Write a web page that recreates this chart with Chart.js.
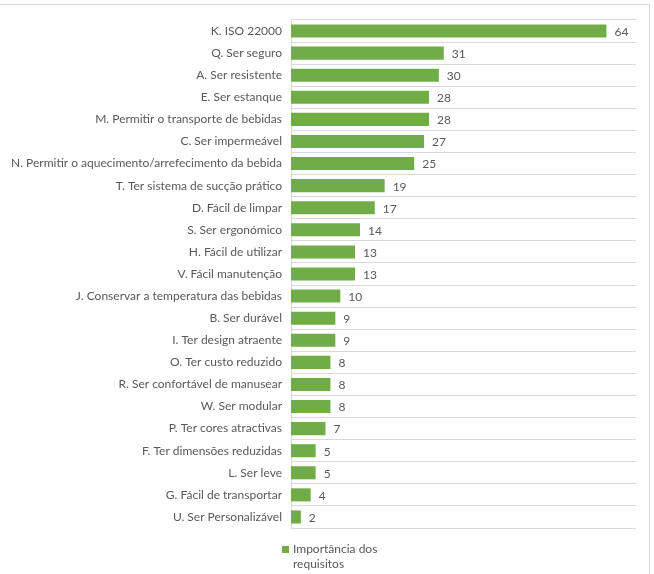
<!DOCTYPE html>
<html>
<head>
<meta charset="utf-8">
<script src="https://cdn.jsdelivr.net/npm/chart.js@4.4.1/dist/chart.umd.min.js"></script>
<style>
  body { margin: 0; background: #fff; }
  #wrap { position: relative; width: 654px; height: 574px; }
  #frame { position: absolute; left: 0; top: 4px; width: 650px; height: 570px;
           border-top: 1px solid #d9d9d9; border-right: 1px solid #d9d9d9; box-sizing: border-box; }
  #legend { position: absolute; left: 282px; top: 541px; width: 130px;
            font: 12px Lato, sans-serif; color: #595959; line-height: 15px; }
  #legend .sw { display: inline-block; width: 7px; height: 7px; background: #70ad47; margin-right: 4px; }
  #legend .txt { display: inline-block; vertical-align: top; width: 110px; }
</style>
</head>
<body>
<div id="wrap">
  <div id="frame"></div>
  <canvas id="chart" width="654" height="574"></canvas>
  <div id="legend"><span class="sw"></span><span class="txt" id="legendText"></span></div>
</div>
<script>
const categories = [
    'K. ISO 22000',
    'Q. Ser seguro',
    'A. Ser resistente',
    'E. Ser estanque',
    'M. Permitir o transporte de bebidas',
    'C. Ser impermeável',
    'N. Permitir o aquecimento/arrefecimento da bebida',
    'T. Ter sistema de sucção prático',
    'D. Fácil de limpar',
    'S. Ser ergonómico',
    'H. Fácil de utilizar',
    'V. Fácil manutenção',
    'J. Conservar a temperatura das bebidas',
    'B. Ser durável',
    'I. Ter design atraente',
    'O. Ter custo reduzido',
    'R. Ser confortável de manusear',
    'W. Ser modular',
    'P. Ter cores atractivas',
    'F. Ter dimensões reduzidas',
    'L. Ser leve',
    'G. Fácil de transportar',
    'U. Ser Personalizável'
];
const importancia = [64, 31, 30, 28, 28, 27, 25, 19, 17, 14, 13, 13, 10, 9, 9, 8, 8, 8, 7, 5, 5, 4, 2];
const seriesName = 'Importância dos requisitos';

const green = '#70ad47';
const textGray = '#595959';
const font = 'Lato, sans-serif';

document.getElementById('legendText').textContent = seriesName;

// values at the end of each bar
const valueLabels = {
    id: 'valueLabels',
    afterDatasetsDraw(chart) {
        const ctx = chart.ctx;
        const meta = chart.getDatasetMeta(0);
        ctx.save();
        ctx.font = '12px ' + font;
        ctx.fillStyle = textGray;
        ctx.textBaseline = 'middle';
        ctx.textAlign = 'left';
        meta.data.forEach((bar, i) => {
            ctx.fillText(chart.data.datasets[0].data[i], bar.x + 8, bar.y + 1);
        });
        ctx.restore();
    }
};

new Chart(document.getElementById('chart'), {
    type: 'bar',
    data: {
        labels: categories,
        datasets: [{
            label: seriesName,
            data: importancia,
            backgroundColor: green,
            barPercentage: 0.8,
            categoryPercentage: 0.74
        }]
    },
    options: {
        indexAxis: 'y',
        responsive: false,
        animation: false,
        layout: { padding: { top: 20, right: 18, bottom: 46, left: 0 } },
        plugins: { legend: { display: false }, tooltip: { enabled: false } },
        scales: {
            x: { display: false, min: 0, max: 70 },
            y: {
                afterFit(scale) { scale.width = 291; },
                grid: { color: '#d9d9d9', drawTicks: false, offset: true },
                border: { display: true, color: '#d9d9d9' },
                ticks: { color: textGray, font: { family: font, size: 12 }, padding: 9, autoSkip: false }
            }
        }
    },
    plugins: [valueLabels]
});
</script>
</body>
</html>
